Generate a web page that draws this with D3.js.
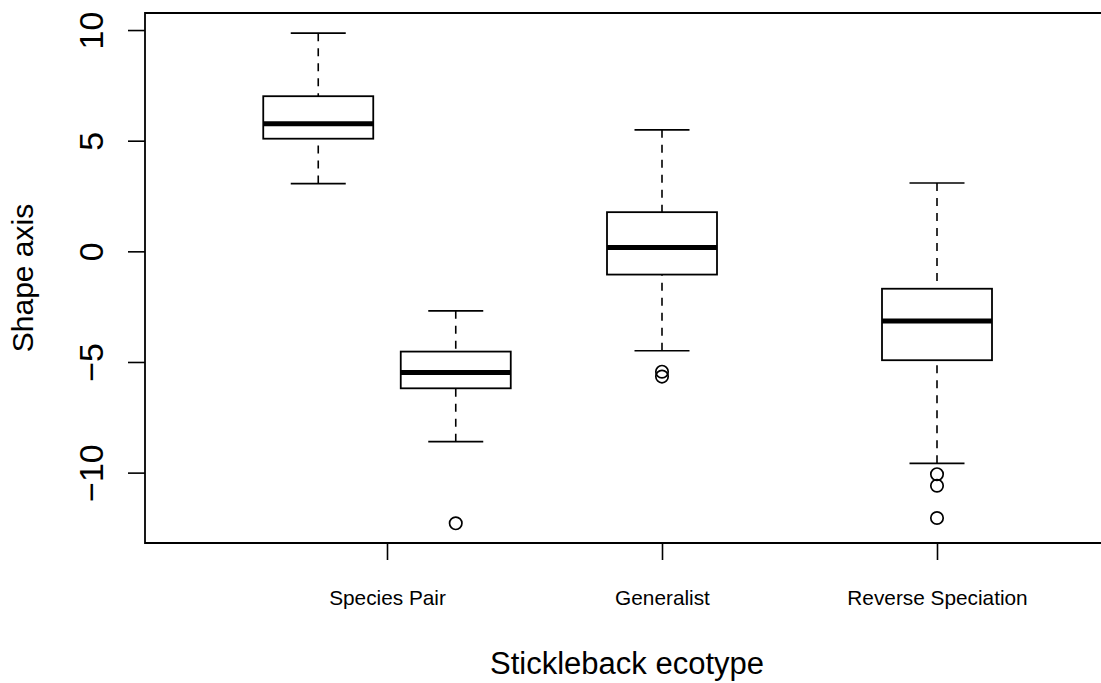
<!DOCTYPE html>
<html>
<head>
<meta charset="utf-8">
<script src="https://cdn.jsdelivr.net/npm/d3@7"></script>
<style>
    body { margin: 0; background: #fff; }
    svg { display: block; font-family: "Liberation Sans", Arial, Helvetica, sans-serif; }
</style>
</head>
<body>
<script>
// ecotype labels and where their ticks sit
var categories = ["Species Pair", "Generalist", "Reverse Speciation"];
var catTicks = [1, 2, 3];
var yTicks = [-10, -5, 0, 5, 10];

// one entry per box: position on the x axis and the five-number summary
var boxPos = [0.75, 1.25, 2, 3];
var whiskLo = [3.06, -8.60, -4.49, -9.58];
var q1 = [5.09, -6.19, -1.05, -4.92];
var median = [5.76, -5.48, 0.17, -3.15];
var q3 = [7.01, -4.53, 1.77, -1.69];
var whiskHi = [9.86, -2.69, 5.49, 3.09];
var outliers = [[], [-12.29], [-5.44, -5.66], [-10.07, -10.59, -12.05]];

var w = 1101, h = 683;
// plot region edges (window.top is reserved, so prefixed names)
var plotL = 145, plotT = 13, plotB = 543, plotR = 1102;

var svg = d3.select("body").append("svg")
    .attr("width", w)
    .attr("height", h);

var x = d3.scaleLinear().domain([0.12, 3.6]).range([plotL, plotR]);
var y = d3.scaleLinear().domain([-13.18, 10.77]).range([plotB, plotT]);

var boxW = 0.4, capW = 0.2;

//Boxes
var boxes = boxPos.map(function(p, i) {
    return { pos: p, lo: whiskLo[i], q1: q1[i], med: median[i], q3: q3[i], hi: whiskHi[i], out: outliers[i] };
});

var g = svg.append("g").attr("id", "boxes");

var b = g.selectAll(".box")
    .data(boxes)
    .enter()
    .append("g")
    .attr("class", "box");

// dashed whiskers, drawn from the cap towards the box
b.append("line")
    .attr("x1", function(d) { return x(d.pos); })
    .attr("x2", function(d) { return x(d.pos); })
    .attr("y1", function(d) { return y(d.hi); })
    .attr("y2", function(d) { return y(d.q3); })
    .attr("stroke", "#000").attr("stroke-width", 1.6)
    .attr("stroke-dasharray", "8,7");
b.append("line")
    .attr("x1", function(d) { return x(d.pos); })
    .attr("x2", function(d) { return x(d.pos); })
    .attr("y1", function(d) { return y(d.lo); })
    .attr("y2", function(d) { return y(d.q1); })
    .attr("stroke", "#000").attr("stroke-width", 1.6)
    .attr("stroke-dasharray", "8,7");

// caps
["hi", "lo"].forEach(function(k) {
    b.append("line")
        .attr("x1", function(d) { return x(d.pos - capW / 2); })
        .attr("x2", function(d) { return x(d.pos + capW / 2); })
        .attr("y1", function(d) { return y(d[k]); })
        .attr("y2", function(d) { return y(d[k]); })
        .attr("stroke", "#000").attr("stroke-width", 1.6);
});

b.append("rect")
    .attr("x", function(d) { return x(d.pos - boxW / 2); })
    .attr("width", function(d) { return x(d.pos + boxW / 2) - x(d.pos - boxW / 2); })
    .attr("y", function(d) { return y(d.q3); })
    .attr("height", function(d) { return y(d.q1) - y(d.q3); })
    .attr("fill", "#fff")
    .attr("stroke", "#000").attr("stroke-width", 1.8);

b.append("line")
    .attr("x1", function(d) { return x(d.pos - boxW / 2); })
    .attr("x2", function(d) { return x(d.pos + boxW / 2); })
    .attr("y1", function(d) { return y(d.med); })
    .attr("y2", function(d) { return y(d.med); })
    .attr("stroke", "#000").attr("stroke-width", 5);

b.selectAll(".out")
    .data(function(d) { return d.out.map(function(v) { return { pos: d.pos, v: v }; }); })
    .enter()
    .append("circle")
    .attr("class", "out")
    .attr("cx", function(d) { return x(d.pos); })
    .attr("cy", function(d) { return y(d.v); })
    .attr("r", 6.2)
    .attr("fill", "none")
    .attr("stroke", "#000").attr("stroke-width", 1.7);

//Axes
var y_axis = d3.axisLeft(y).tickValues(yTicks).tickSize(17);
var y_group = svg.append("g")
    .attr("transform", "translate(" + plotL + ",0)")
    .call(y_axis);
y_group.select(".domain").remove();
y_group.selectAll("line").attr("stroke-width", 1.6);
y_group.selectAll("text")
    .attr("transform", "rotate(-90)")
    .attr("x", 0)
    .attr("y", -42)
    .attr("dy", null)
    .attr("text-anchor", "middle")
    .attr("font-size", 34)
    .attr("fill", "#000");

var x_axis = d3.axisBottom(x).tickValues(catTicks)
    .tickFormat(function(d) { return categories[d - 1]; })
    .tickSize(17);
var x_group = svg.append("g")
    .attr("transform", "translate(0," + plotB + ")")
    .call(x_axis);
x_group.select(".domain").remove();
x_group.selectAll("line").attr("stroke-width", 1.6);
x_group.selectAll("text")
    .attr("y", 62)
    .attr("dy", null)
    .attr("font-size", 20.8)
    .attr("fill", "#000");

// plot frame (right side runs off the picture)
svg.append("path")
    .attr("d", "M" + plotR + "," + plotT + "H" + plotL + "V" + plotB + "H" + plotR)
    .attr("fill", "none")
    .attr("stroke", "#000")
    .attr("stroke-width", 1.8);

//Titles
svg.append("text")
    .attr("x", 627)
    .attr("y", 674)
    .attr("text-anchor", "middle")
    .attr("font-size", 31)
    .text("Stickleback ecotype");

svg.append("text")
    .attr("transform", "translate(33," + (plotT + plotB) / 2 + ") rotate(-90)")
    .attr("text-anchor", "middle")
    .attr("font-size", 30)
    .text("Shape axis");
</script>
</body>
</html>
